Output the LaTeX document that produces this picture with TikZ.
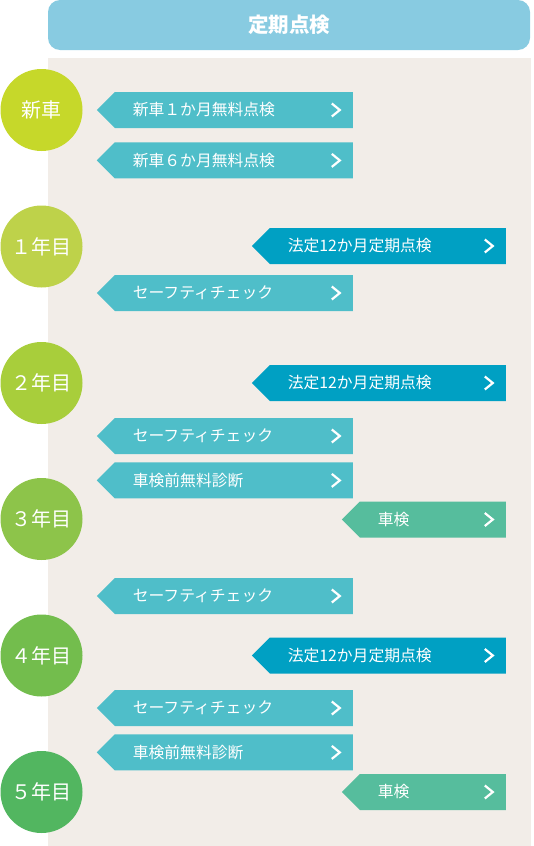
\documentclass[tikz,border=0pt]{standalone}
\usepackage{fontspec}
\setmainfont{Noto Sans CJK JP}
\usetikzlibrary{shapes.symbols,positioning}
\definecolor{headblue}{HTML}{88CBE1}
\definecolor{panel}{HTML}{F2EDE8}
\definecolor{tagteal}{HTML}{4FBEC9}
\definecolor{tagblue}{HTML}{00A0C3}
\definecolor{taggreen}{HTML}{56BD9D}
\definecolor{yr0}{HTML}{C6D82A}
\definecolor{yr1}{HTML}{BED24A}
\definecolor{yr2}{HTML}{A8CE3B}
\definecolor{yr3}{HTML}{8DC44A}
\definecolor{yr4}{HTML}{73BD4D}
\definecolor{yr5}{HTML}{52B660}

\begin{document}
\begin{tikzpicture}[x=1pt,y=-1pt,
  year/.style={circle,minimum size=82pt,inner sep=0pt,text=white,font=\fontsize{20}{20}\selectfont},
  tag/.style={signal,signal to=west,signal from=nowhere,signal pointer angle=90,minimum height=36pt,
    inner ysep=0pt,inner xsep=18pt,align=left,anchor=east,text=white,font=\fontsize{15.8}{16}\selectfont,
    path picture={\draw[white,line width=2.2pt] ([xshift=-21pt,yshift=6.5pt]path picture bounding box.east) -- ++(8pt,-6.5pt) -- ++(-8pt,-6.5pt);}},
  service/.style={tag,fill=tagteal,text width=202pt},
  legal/.style={tag,fill=tagblue,text width=200pt},
  shaken/.style={tag,fill=taggreen,text width=110pt}]
\useasboundingbox (0,0) rectangle (534,846);
\fill[panel] (48,58) rectangle (531,846);
\node[fill=headblue,rounded corners=12pt,minimum width=482pt,minimum height=50pt,text=white,font=\bfseries\fontsize{20.5}{21}\selectfont] (head) at (289,25) {定期点検};

% years
\node[year,fill=yr0] (new) at (41.5,110) {新車};
\node[year,fill=yr1] (y1) at (41.5,246.5) {１年目};
\node[year,fill=yr2] (y2) at (41.5,383) {２年目};
\node[year,fill=yr3] (y3) at (41.5,519) {３年目};
\node[year,fill=yr4] (y4) at (41.5,655.5) {４年目};
\node[year,fill=yr5] (y5) at (41.5,792) {５年目};

% inspections
\node[service] (new1m) at (353,110) {新車１か月無料点検};
\node[service,below=14pt of new1m] (new6m) {新車６か月無料点検};
\node[legal] (legal1) at (506,246) {法定12か月定期点検};
\node[service] (safe1) at (353,293) {セーフティチェック};
\node[legal] (legal2) at (506,383) {法定12か月定期点検};
\node[service] (safe2) at (353,436) {セーフティチェック};
\node[service,below=8pt of safe2] (pre3) {車検前無料診断};
\node[shaken] (shaken3) at (506,519.5) {車検};
\node[service] (safe3) at (353,596) {セーフティチェック};
\node[legal] (legal4) at (506,655.5) {法定12か月定期点検};
\node[service] (safe4) at (353,708) {セーフティチェック};
\node[service,below=8pt of safe4] (pre5) {車検前無料診断};
\node[shaken] (shaken5) at (506,792) {車検};
\end{tikzpicture}
\end{document}
